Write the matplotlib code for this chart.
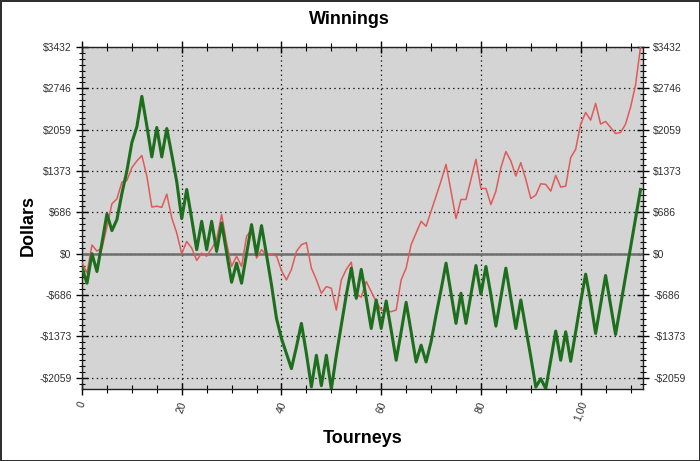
import matplotlib
matplotlib.use("Agg")
import matplotlib.pyplot as plt
import numpy as np
from matplotlib.ticker import MultipleLocator, FixedLocator, FuncFormatter

plt.rcParams["font.family"] = ["Liberation Sans", "DejaVu Sans"]

# cumulative winnings (thin red line)
winnings = [
    -150, -320, 145, 45, 90, 450, 830, 910, 1190, 1215,
    1430, 1540, 1630, 1290, 775, 790, 770, 990, 595, 345,
    0, 205, 95, -110, 10, -40, 85, 234, 650, 178,
    -211, -40, -211, 288, 400, -72, 67, -17, -17, -33,
    -280, -434, -260, 39, 150, 185, -239, -430, -656, -545,
    -573, -934, -434, -260, -140, -684, -720, -461, -628, -795,
    -934, -950, -962, -934, -434, -239, 150, 345, 539, 456,
    706, 956, 1207, 1484, 1040, 584, 901, 901, 1234, 1568,
    1084, 1084, 817, 1040, 1429, 1696, 1540, 1290, 1512, 1234,
    917, 973, 1162, 1151, 1040, 1301, 1106, 1123, 1596, 1735,
    2152, 2346, 2218, 2496, 2152, 2196, 2096, 1996, 2013, 2152,
    2430, 2800, 3432,
]

# second series (thick green line)
green = [
    -228, -489, 0, -295, 180, 662, 384, 567, 1000, 1373,
    1846, 2107, 2613, 2124, 1607, 2096, 1607, 2079, 1646, 1195,
    584, 1067, 580, 67, 539, 67, 539, 39, 511, 20,
    -473, -156, -489, 0, 484, -17, 467, -17, -517, -1073,
    -1407, -1657, -1907, -1546, -1156, -1657, -2210, -1685, -2190, -1685,
    -2245, -1685, -1184, -684, -239, -740, -260, -740, -1240, -767,
    -1240, -784, -1268, -1768, -1295, -806, -1295, -1796, -1518, -1796,
    -1462, -1017, -600, -156, -656, -1156, -656, -1156, -673, -195,
    -673, -211, -684, -1201, -720, -239, -740, -1240, -767, -1240,
    -1712, -2213, -2074, -2240, -1768, -1284, -1768, -1295, -1785, -1295,
    -795, -339, -795, -1323, -840, -361, -851, -1340, -859, -378,
    103, 585, 1067,
]

x_ticks = [0, 20, 40, 60, 80, 100]
x_tick_labels = ["0", "20", "40", "60", "80", "1,00"]

tourneys = np.arange(len(winnings))
ymax = max(winnings)
ymin = min(green)
ystep = ymax / 5.0
y_ticks = [k * ystep for k in range(-3, 6)]


def dollar(v, pos=None):
    v = int(round(v))
    return f"-${abs(v)}" if v < 0 else f"${v}"


fig = plt.figure(figsize=(7, 4.61), dpi=100)
fig.patch.set_facecolor("white")
fig.patch.set_edgecolor("#303030")
fig.patch.set_linewidth(2)

ax = fig.add_axes([82 / 700, 1 - 389 / 461, (643 - 82) / 700, (389 - 47) / 461])
ax.set_facecolor("#d4d4d4")

ax.axhline(0, color="#6e6e6e", lw=1.8, zorder=2)
ax.plot(tourneys, winnings, color="#e05a5a", lw=1.1, zorder=3)
ax.plot(tourneys, green, color="#1d6e1d", lw=2.2, zorder=4)

ax.set_xlim(0, 112.5)
ax.set_ylim(ymin, ymax)

ax.xaxis.set_major_locator(FixedLocator(x_ticks))
ax.set_xticklabels(x_tick_labels)
ax.xaxis.set_minor_locator(MultipleLocator(5))
ax.yaxis.set_major_locator(FixedLocator(y_ticks))
ax.yaxis.set_major_formatter(FuncFormatter(dollar))
ax.yaxis.set_minor_locator(MultipleLocator(ystep / 7))

ax.grid(True, which="major", color="#202020", lw=0.9, linestyle=(0, (1.2, 2.6)), zorder=1)
ax.set_axisbelow(True)

for s in ax.spines.values():
    s.set_color("#202020")
    s.set_linewidth(1)

ax.tick_params(axis="y", which="major", direction="inout", length=9, width=1,
               left=True, right=True, labelleft=True, labelright=True,
               labelsize=7.5, labelcolor="#303030", pad=3)
ax.tick_params(axis="y", which="minor", direction="inout", length=5, width=0.8,
               left=True, right=True)
ax.tick_params(axis="x", which="major", direction="inout", length=8, width=1,
               top=True, bottom=True, labelsize=7.5, labelcolor="#303030", pad=4)
ax.tick_params(axis="x", which="minor", direction="inout", length=6, width=0.8,
               top=True, bottom=True)
for lbl in ax.get_xticklabels():
    lbl.set_rotation(70)
    lbl.set_ha("center")
    lbl.set_va("top")

fig.text(349 / 700, 1 - 20 / 461, "Winnings", ha="center", va="center",
         fontsize=13, fontweight="bold")
fig.text(363 / 700, 1 - 438 / 461, "Tourneys", ha="center", va="center",
         fontsize=13, fontweight="bold")
fig.text(28 / 700, 1 - 226 / 461, "Dollars", ha="center", va="center",
         fontsize=13, fontweight="bold", rotation=90)

fig.savefig("out.png", dpi=100, facecolor=fig.get_facecolor(),
            edgecolor=fig.get_edgecolor())
